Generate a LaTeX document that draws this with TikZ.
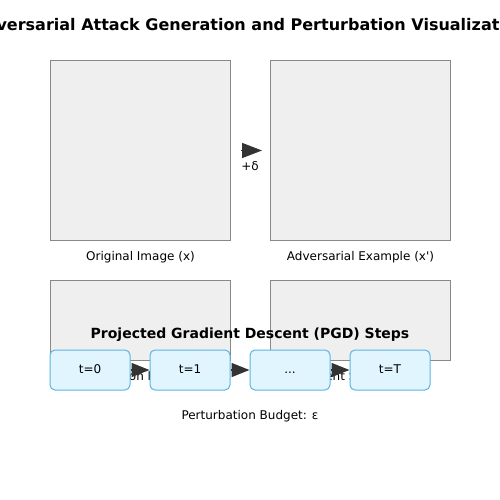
\documentclass[tikz,border=0pt]{standalone}
\usepackage{fontspec}
\setmainfont{DejaVu Sans}
\usepackage{xcolor}
\usepackage{tikz}
\usetikzlibrary{chains,positioning,arrows.meta}

\definecolor{panelfill}{HTML}{EFEFEF}
\definecolor{panelline}{HTML}{888888}
\definecolor{stepfill}{HTML}{E1F5FE}
\definecolor{stepline}{HTML}{5AB4E5}
\definecolor{arrowdark}{HTML}{333333}

\begin{document}
\begin{tikzpicture}[x=1pt,y=-1pt]
        \tikzstyle{panel}=[draw=panelline,fill=panelfill,line width=1pt,minimum width=180pt,inner sep=0pt,anchor=north west]
        \tikzstyle{caption}=[font=\fontsize{12}{14}\selectfont,inner sep=0pt]
        \tikzstyle{heading}=[font=\fontsize{14}{17}\selectfont\bfseries,inner sep=0pt]
        \tikzstyle{stepbox}=[draw=stepline,fill=stepfill,line width=1pt,rounded corners=5pt,minimum width=80pt,minimum height=40pt,text height=8.7pt,text depth=2.3pt,font=\fontsize{12}{14}\selectfont]
        \tikzstyle{flow}=[draw=arrowdark,line width=1.5pt,-{Triangle[length=20pt,width=15pt]}]

        \useasboundingbox (0,0) rectangle (500,500);

        %% Title
        \node [heading,font=\fontsize{16}{19}\selectfont\bfseries] (title) at (250,25) {Adversarial Attack Generation and Perturbation Visualization};

        %% Image panels
        \node [panel,minimum height=180pt] (orig) at (50,60) {};
        \node [panel,minimum height=180pt] (adv) at (270,60) {};
        \node [caption,below=10pt of orig] (origlbl) {Original Image (x)};
        \node [caption,below=10pt of adv] (advlbl) {Adversarial Example (x\textquotesingle)};

        \draw [flow,shorten <=10pt,shorten >=8pt] (orig) -- (adv);
        \node [caption] (delta) at (250,166) {+δ};

        %% Perturbation and gradient panels
        \node [panel,minimum height=80pt] (pert) at (50,280) {};
        \node [panel,minimum height=80pt] (grad) at (270,280) {};
        \node [caption,below=10pt of pert] (pertlbl) {Perturbation Pattern (δ)};
        \node [caption,below=10pt of grad] (gradlbl) {Gradient Saliency Map};

        %% PGD steps
        \node [heading] (pgd) at (250,335) {Projected Gradient Descent (PGD) Steps};

        \begin{scope}[start chain=1 going right,node distance=19pt]
            \node [on chain=1,stepbox] (s0) at (90,370) {t=0};
            \node [on chain=1,stepbox] (s1) {t=1};
            \node [on chain=1,stepbox] (sdots) {...};
            \node [on chain=1,stepbox] (sT) {t=T};
        \end{scope}

        \draw [flow,-{Triangle[length=18pt,width=14pt]}] (s0) -- (s1);
        \draw [flow,-{Triangle[length=18pt,width=14pt]}] (s1) -- (sdots);
        \draw [flow,-{Triangle[length=18pt,width=14pt]}] (sdots) -- (sT);

        \node [caption] (budget) at (250,416) {Perturbation Budget: ε};
    \end{tikzpicture}
\end{document}
